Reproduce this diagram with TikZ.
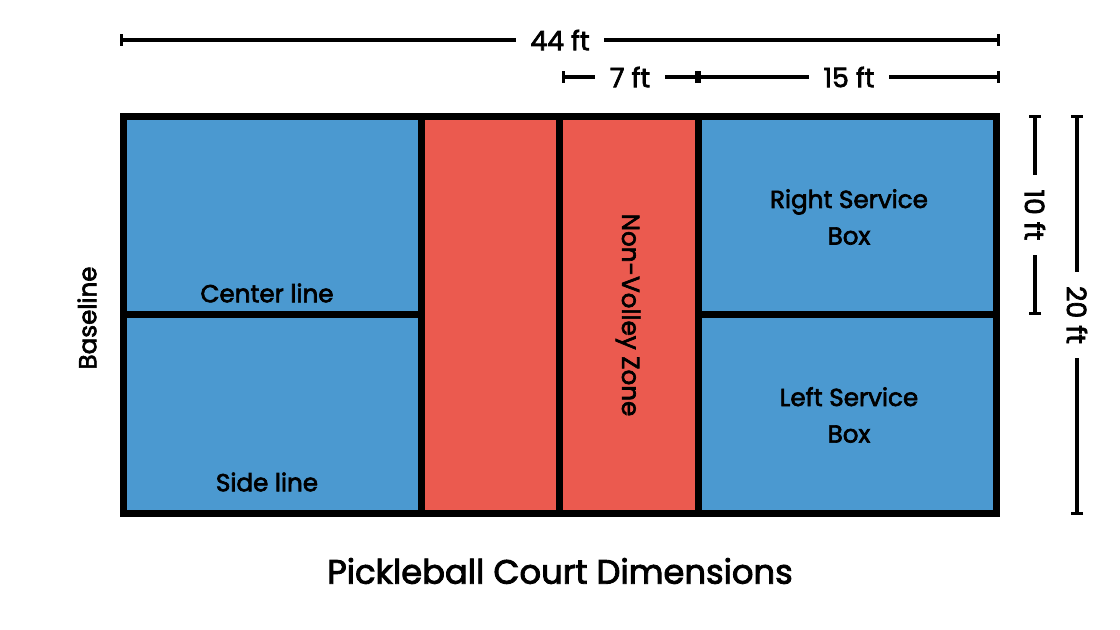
\documentclass[tikz,border=0pt]{standalone}
\usepackage{fontspec}
\setmainfont{Poppins}[FakeBold=2.6]
\usetikzlibrary{arrows.meta}
\definecolor{courtblue}{HTML}{4B99D0}
\definecolor{kitchenred}{HTML}{EB5A4F}
\tikzset{
  court line/.style={line width=0.175cm},
  dim/.style={line width=0.08cm,{Bar[width=0.3cm]}-{Bar[width=0.3cm]}},
  dimlabel/.style={fill=white,inner xsep=0.36cm,inner ysep=1pt,font=\fontsize{19}{22}\selectfont},
  label/.style={font=\fontsize{17.5}{26}\selectfont,align=center}
}
\begin{document}
\begin{tikzpicture}[x=0.025cm,y=-0.025cm]
\useasboundingbox (0,0) rectangle (1120,630);
% court
\fill[courtblue] (123.5,116.5) rectangle (996.5,513.5);
\fill[kitchenred] (421,116.5) rectangle (698.7,513.5);
\draw[court line] (421,116.5) -- (421,513.5);
\draw[court line] (559.5,116.5) -- (559.5,513.5);
\draw[court line] (698.7,116.5) -- (698.7,513.5);
\draw[court line] (123.5,314.7) -- (421,314.7);
\draw[court line] (698.7,314.7) -- (996.5,314.7);
\draw[court line] (123.5,116.5) rectangle (996.5,513.5);

% dimensions
\coordinate (w0) at (120,40);
\coordinate (w1) at (1000,40);
\coordinate (k0) at (562,77);
\coordinate (k1) at (698,77);
\coordinate (k2) at (1000,77);
\coordinate (h0) at (1035,115);
\coordinate (h1) at (1035,315);
\coordinate (f0) at (1077,115);
\coordinate (f1) at (1077,515);
\draw[dim] (w0) -- node[dimlabel] (wlab) {44 ft} (w1);
\draw[dim] (k0) -- node[dimlabel] (klab) {7 ft} (k1);
\draw[dim] (k1) -- node[dimlabel] (slab) {15 ft} (k2);
\draw[dim] (h0) -- node[dimlabel,rotate=-90] (hlab) {10 ft} (h1);
\draw[dim] (f0) -- node[dimlabel,rotate=-90] (flab) {20 ft} (f1);

% labels
\node[label,rotate=90] (base) at (87,318) {Baseline};
\node[label] (center) at (267,293) {Center line};
\node[label] (side) at (267,482) {Side line};
\node[label,rotate=-90] (nvz) at (628,315) {Non-Volley Zone};
\node[label] (rsb) at (849,217) {Right Service\\Box};
\node[label] (lsb) at (849,415) {Left Service\\Box};
\node[font=\fontsize{24}{28}\selectfont] (title) at (560,571) {Pickleball Court Dimensions};
\end{tikzpicture}
\end{document}
